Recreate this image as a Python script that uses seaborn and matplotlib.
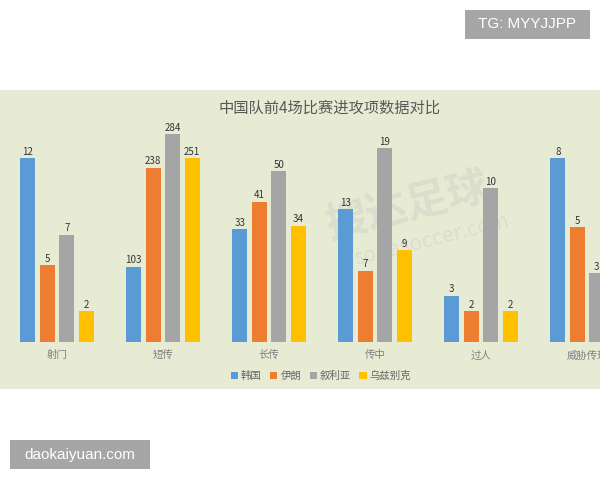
import matplotlib
matplotlib.use("Agg")
import matplotlib.pyplot as plt
from matplotlib.patches import Rectangle
import seaborn as sns
import pandas as pd

categories = ['射门', '短传', '长传', '传中', '过人', '威胁传球']
teams = ['韩国', '伊朗', '叙利亚', '乌兹别克']
korea = [12, 103, 33, 13, 3, 8]
iran = [5, 238, 41, 7, 2, 5]
syria = [7, 284, 50, 19, 10, 3]
uzbek = [2, 251, 34, 9, 2, 4]
# each category group is drawn on its own scale: height of its tallest bar
group_top = [184, 208, 171, 194, 154, 184]

colors = ['#5b9bd5', '#ed7d31', '#a5a5a5', '#ffc000']

sns.set_theme(style='white')
plt.rcParams['font.family'] = ['Noto Sans CJK SC', 'DejaVu Sans']

series = [korea, iran, syria, uzbek]
group_max = [max(s[i] for s in series) for i in range(len(categories))]
rows = []
for team, vals in zip(teams, series):
    for i, cat in enumerate(categories):
        rows.append({'category': cat, 'team': team, 'value': vals[i],
                     'height': vals[i] / group_max[i] * group_top[i]})
df = pd.DataFrame(rows)

fig = plt.figure(figsize=(6, 4.8), dpi=100)
fig.patch.set_facecolor('white')
fig.patches.append(Rectangle((0, 91 / 480), 1, 299 / 480, transform=fig.transFigure,
                             facecolor='#e8ebd4', edgecolor='none', zorder=-5))

# faint site watermark, behind the bars
fig.text(0.68, 0.57, '搜达足球', fontsize=30, color='#dcdecd', rotation=14,
         ha='center', va='center', fontweight='bold', zorder=-2)
fig.text(0.72, 0.50, 'sodasoccer.com', fontsize=15, color='#dcdecd', rotation=14,
         ha='center', va='center', zorder=-2)

ax = fig.add_axes([0, 138 / 480, 1, 250 / 480])
ax.set_facecolor('none')
sns.barplot(data=df, x='category', y='height', hue='team', palette=colors,
            saturation=1, width=0.735, gap=0.24, linewidth=0, edgecolor='none',
            ax=ax, legend=True)

for cont, team in zip(ax.containers, teams):
    labels = df[df['team'] == team]['value'].astype(str).tolist()
    ax.bar_label(cont, labels=labels, padding=1, fontsize=7, color='#333333')

ax.set_xlim(-57 / 106, 543 / 106)
ax.set_ylim(0, 250)
ax.set_xlabel('')
ax.set_ylabel('')
ax.set_yticks([])
ax.tick_params(axis='x', length=0, pad=6, labelsize=7.5, labelcolor='#7f7f7f')
for s in ax.spines.values():
    s.set_visible(False)

handles, labels = ax.get_legend_handles_labels()
ax.get_legend().remove()
fig.legend(handles, labels, loc='center', bbox_to_anchor=(0.535, 104 / 480), ncol=4,
           frameon=False, fontsize=7.5, handlelength=0.7, handleheight=0.7,
           handletextpad=0.3, columnspacing=0.8, labelcolor='#666666')

fig.text(0.55, 1 - 108 / 480, '中国队前4场比赛进攻项数据对比', fontsize=11,
         color='#595959', ha='center', va='center')

# corner tags
fig.patches.append(Rectangle((465 / 600, 1 - 39 / 480), 125 / 600, 29 / 480,
                             transform=fig.transFigure, facecolor='#a6a6a6',
                             edgecolor='none'))
fig.text(527 / 600, 1 - 24.5 / 480, 'TG: MYYJJPP', fontsize=11, color='white',
         ha='center', va='center', family='Liberation Sans')
fig.patches.append(Rectangle((10 / 600, 1 - 469 / 480), 140 / 600, 29 / 480,
                             transform=fig.transFigure, facecolor='#a6a6a6',
                             edgecolor='none'))
fig.text(80 / 600, 1 - 454.5 / 480, 'daokaiyuan.com', fontsize=11, color='white',
         ha='center', va='center', family='Liberation Sans')

fig.savefig('out.png', dpi=100, facecolor=fig.get_facecolor())
